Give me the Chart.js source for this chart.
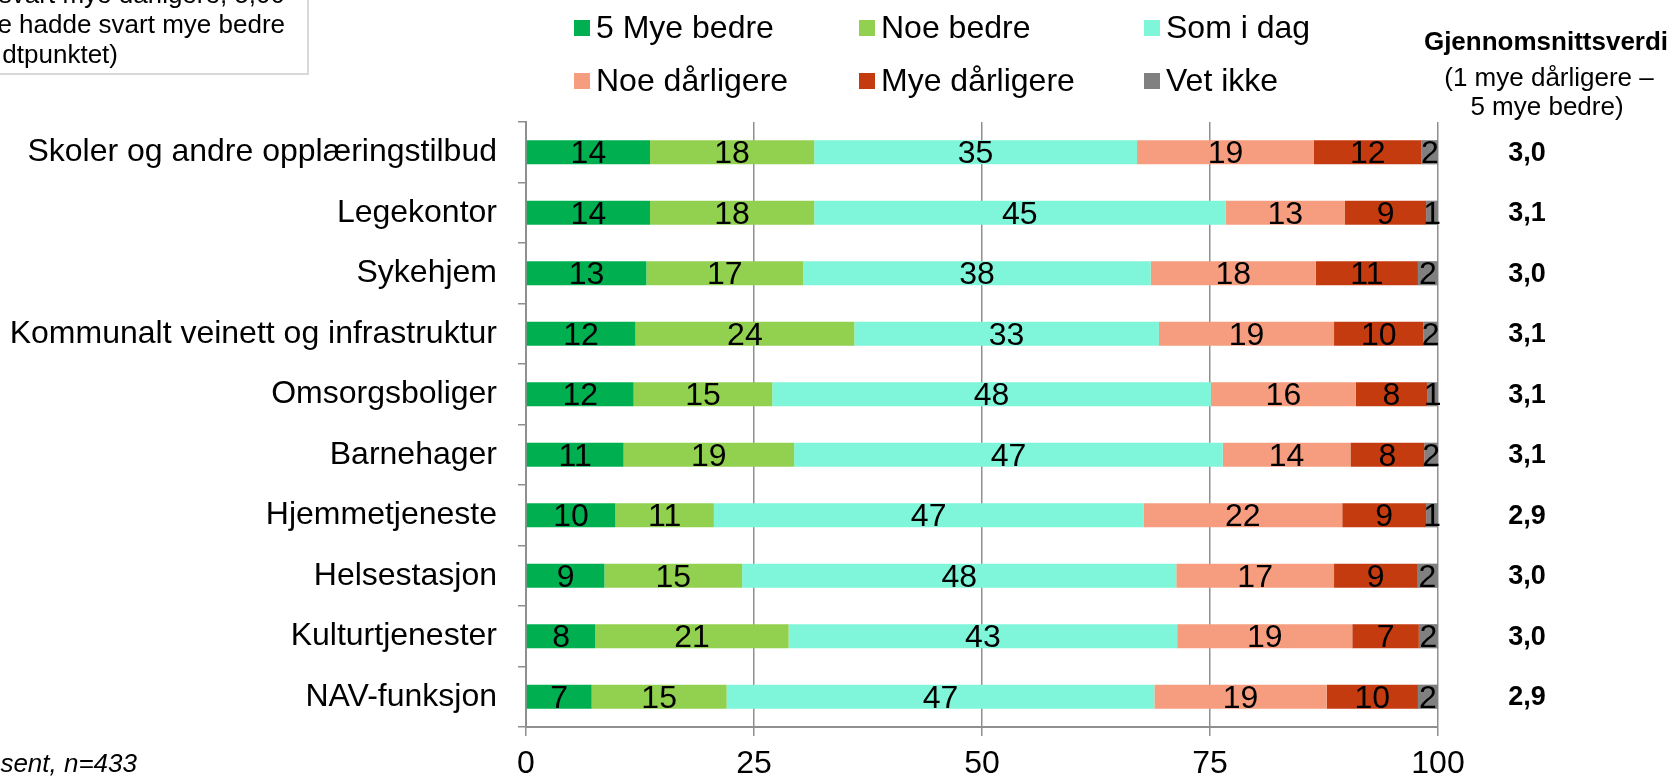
<!DOCTYPE html>
<html>
<head>
<meta charset="utf-8">
<script src="https://cdn.jsdelivr.net/npm/chart.js@4"></script>
<style>
  body { margin: 0; background: #fff; }
  #wrap { width: 1677px; height: 778px; position: relative; }
</style>
</head>
<body>
<div id="wrap"><canvas id="myChart"></canvas></div>
<script>
const FONT = "'Liberation Sans', Arial, sans-serif";

const categories = [
  "Skoler og andre opplæringstilbud",
  "Legekontor",
  "Sykehjem",
  "Kommunalt veinett og infrastruktur",
  "Omsorgsboliger",
  "Barnehager",
  "Hjemmetjeneste",
  "Helsestasjon",
  "Kulturtjenester",
  "NAV-funksjon"
];

// percent per answer, one value per category (labels show rounded values)
const myeBedre      = [13.6, 13.6, 13.2, 12.0, 11.8, 10.7, 9.8, 8.6, 7.6, 7.2];
const noeBedre      = [18.0, 18.0, 17.2, 24.0, 15.2, 18.7, 10.8, 15.1, 21.2, 14.8];
const somIDag       = [35.4, 45.1, 38.1, 33.4, 48.1, 47.0, 47.1, 47.6, 42.6, 46.9];
const noeDarligere  = [19.4, 13.1, 18.1, 19.2, 15.9, 14.0, 21.8, 17.3, 19.2, 18.9];
const myeDarligere  = [11.8, 8.9, 11.2, 9.8, 7.8, 8.1, 9.2, 9.1, 7.3, 10.0];
const vetIkke       = [1.8, 1.3, 2.2, 1.6, 1.2, 1.5, 1.3, 2.3, 2.1, 2.2];

const snitt = ["3,0", "3,1", "3,0", "3,1", "3,1", "3,1", "2,9", "3,0", "3,0", "2,9"];
const xTicks = [0, 25, 50, 75, 100];

const seriesNames = ["5 Mye bedre", "Noe bedre", "Som i dag", "Noe dårligere", "Mye dårligere", "Vet ikke"];
const seriesColors = ["#00B050", "#92D050", "#7FF6D9", "#F59D7E", "#C43B10", "#808080"];
const seriesData = [myeBedre, noeBedre, somIDag, noeDarligere, myeDarligere, vetIkke];

const gridGray = "#8f8f8f";

// numbers inside the bars
const barLabels = {
  id: "barLabels",
  afterDatasetsDraw(chart) {
    const ctx = chart.ctx;
    ctx.save();
    ctx.font = "32px " + FONT;
    ctx.fillStyle = "#000";
    ctx.textAlign = "center";
    ctx.textBaseline = "middle";
    chart.data.datasets.forEach((ds, di) => {
      chart.getDatasetMeta(di).data.forEach((bar, i) => {
        const x = (bar.x + bar.base) / 2;
        ctx.fillText(Math.round(ds.data[i]), x, bar.y + 2);
      });
    });
    ctx.restore();
  }
};

// legend, average column and side notes
const extras = {
  id: "extras",
  afterDraw(chart) {
    const ctx = chart.ctx;
    const y = chart.scales.y;
    ctx.save();

    // legend in 3 columns, 2 rows
    const colX = [574, 859, 1144];
    const rowY = [28, 81];
    ctx.font = "32px " + FONT;
    ctx.textBaseline = "middle";
    ctx.textAlign = "left";
    chart.data.datasets.forEach((ds, i) => {
      const cx = colX[i % 3];
      const cy = rowY[Math.floor(i / 3)];
      ctx.fillStyle = ds.backgroundColor;
      ctx.fillRect(cx, cy - 8, 16, 16);
      ctx.fillStyle = "#000";
      ctx.fillText(ds.label, cx + 22, cy + 1);
    });

    // average column
    ctx.textAlign = "center";
    ctx.font = "bold 26px " + FONT;
    ctx.fillText("Gjennomsnittsverdi", 1546, 43);
    ctx.font = "26px " + FONT;
    ctx.fillText("(1 mye dårligere –", 1549, 79);
    ctx.fillText("5 mye bedre)", 1547, 108);
    ctx.font = "bold 27px " + FONT;
    snitt.forEach((s, i) => {
      ctx.fillText(s, 1527, y.getPixelForValue(i) + 1);
    });

    // note box, top left (cut off by the page edge)
    ctx.fillStyle = "#fff";
    ctx.strokeStyle = "#d9d9d9";
    ctx.lineWidth = 2;
    ctx.fillRect(-10, -10, 318, 84);
    ctx.strokeRect(-10, -10, 318, 84);
    ctx.fillStyle = "#000";
    ctx.font = "26px " + FONT;
    ctx.textAlign = "right";
    ctx.textBaseline = "alphabetic";
    ctx.fillText("hadde svart mye dårligere, 5,00", 285, 3);
    ctx.fillText("betyr at alle hadde svart mye bedre", 285, 33);
    ctx.fillText("dtpunktet)", 118, 63);

    // source note, bottom left
    ctx.font = "italic 26px " + FONT;
    ctx.fillText("Prosent, n=433", 137, 772);

    ctx.restore();
  }
};

const ctx = document.getElementById("myChart");

new Chart(ctx, {
  type: "bar",
  data: {
    labels: categories,
    datasets: seriesNames.map((name, i) => ({
      label: name,
      data: seriesData[i],
      backgroundColor: seriesColors[i],
      borderWidth: 0,
      barPercentage: 0.4,
      categoryPercentage: 1.0
    }))
  },
  options: {
    indexAxis: "y",
    responsive: true,
    maintainAspectRatio: false,
    animation: false,
    layout: { padding: { top: 122, right: 239, left: 0, bottom: 0 } },
    plugins: {
      legend: { display: false },
      tooltip: { enabled: false }
    },
    scales: {
      x: {
        stacked: true,
        min: 0,
        max: 100,
        afterBuildTicks(scale) {
          scale.ticks = xTicks.map((v) => ({ value: v }));
        },
        afterFit(scale) { scale.height = 51; },
        grid: {
          color: gridGray,
          lineWidth: 1.5,
          drawTicks: true,
          tickLength: 9,
          tickColor: gridGray
        },
        border: { color: gridGray, width: 2 },
        ticks: {
          color: "#000",
          padding: 9,
          font: { family: FONT, size: 32 }
        }
      },
      y: {
        stacked: true,
        afterFit(scale) { scale.width = 526; },
        grid: {
          offset: true,
          drawOnChartArea: false,
          drawTicks: true,
          tickLength: 8,
          color: gridGray,
          lineWidth: 1.5
        },
        border: { color: gridGray, width: 2 },
        ticks: {
          color: "#000",
          padding: 21,
          font: { family: FONT, size: 32 }
        }
      }
    }
  },
  plugins: [barLabels, extras]
});
</script>
</body>
</html>
